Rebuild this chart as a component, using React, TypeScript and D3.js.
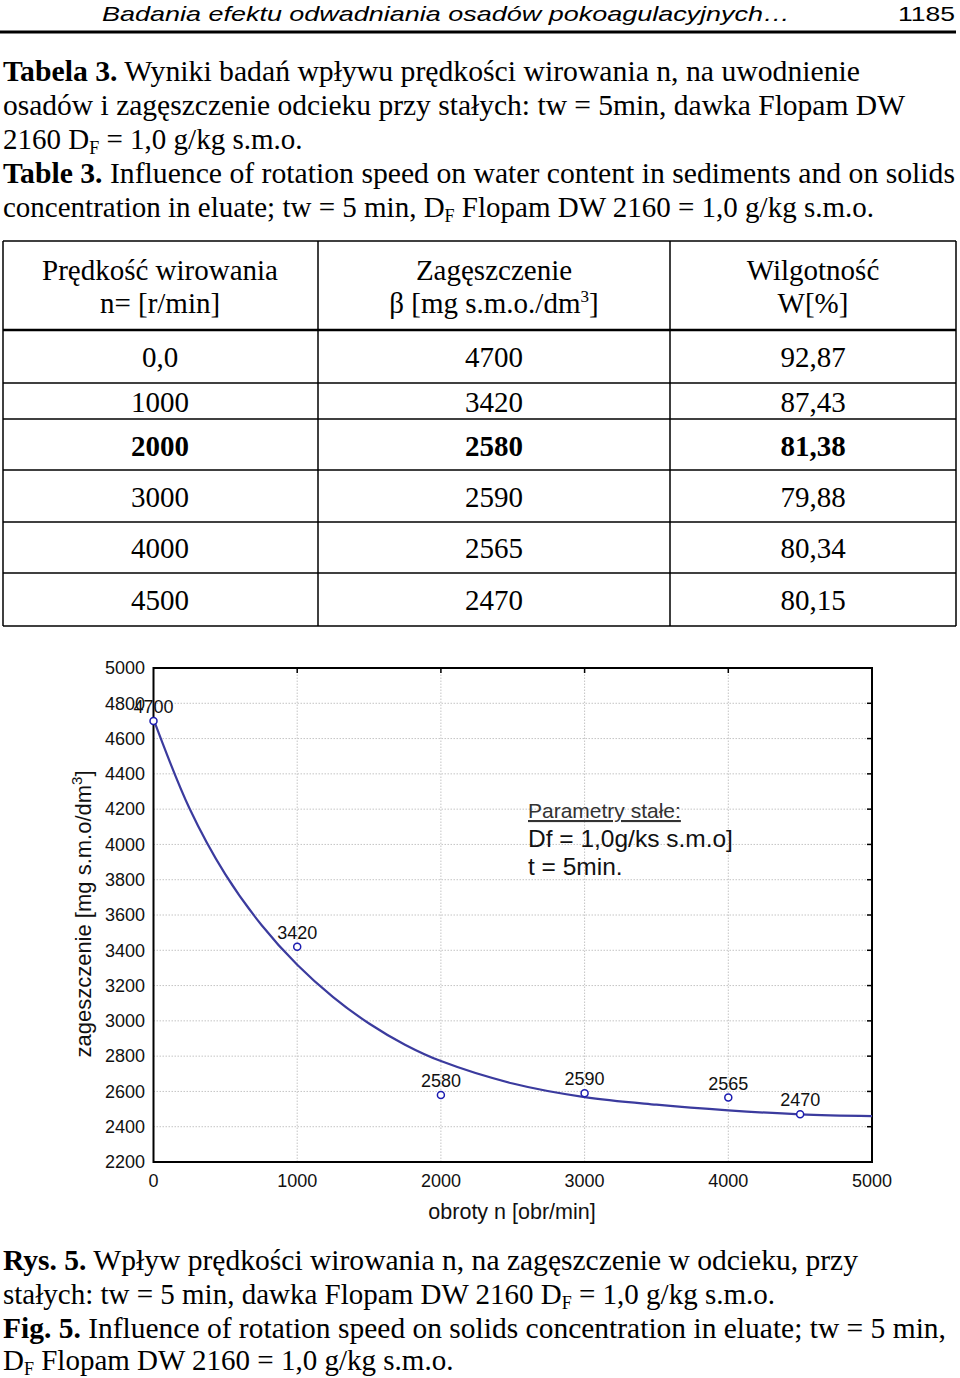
import React from "react";
import * as d3 from "d3";

// ---------- data ----------
const speeds = [0, 1000, 2000, 3000, 4000, 4500];
const speedLabels = ["0,0", "1000", "2000", "3000", "4000", "4500"];
const concentration = [4700, 3420, 2580, 2590, 2565, 2470];
const concentrationLabels = ["4700", "3420", "2580", "2590", "2565", "2470"];
const moisture = ["92,87", "87,43", "81,38", "79,88", "80,34", "80,15"];
const boldRow = 2;

// fitted curve
const fitN = [0, 250, 500, 750, 1000, 1250, 1500, 1750, 2000, 2500, 3000, 3500, 4000, 4500, 5000];
const fitValues = [4710, 4205, 3830, 3545, 3318, 3135, 2985, 2865, 2772, 2645, 2568, 2525, 2493, 2470, 2460];

const xTicks = [0, 1000, 2000, 3000, 4000, 5000];
const yTicks = [2200, 2400, 2600, 2800, 3000, 3200, 3400, 3600, 3800, 4000, 4200, 4400, 4600, 4800, 5000];

const SERIF = "'Liberation Serif', 'Times New Roman', serif";
const SANS = "'Liberation Sans', Arial, sans-serif";

export default function App() {
  const x = d3.scaleLinear().domain([0, 5000]).range([153.5, 872]);
  const y = d3.scaleLinear().domain([2200, 5000]).range([1162, 668]);
  const line = d3
    .line<number>()
    .x((_, i) => x(fitN[i]))
    .y((d) => y(d))
    .curve(d3.curveCatmullRom.alpha(0.5));

  const colX = [3, 318, 670, 956];
  const colC = [160, 494, 813];
  const rowLines = [241, 330, 383, 419, 470, 522, 573, 626];
  const rowBase = [367, 412, 456, 507, 558, 610];

  // text with a subscript "F": before + D_F + after
  const withSub = (before: string, after: string) => (
    <>
      {before}D
      <tspan fontSize="18" dy="5">F</tspan>
      <tspan dy="-5">{after}</tspan>
    </>
  );

  return (
    <svg
      width={960}
      height={1378}
      style={{ position: "absolute", left: 0, top: 0, display: "block", background: "#fff" }}
    >
      <rect x={0} y={0} width={960} height={1378} fill="#fff" />
      {/* running header */}
      <text x={102} y={21} fontFamily={SANS} fontStyle="italic" fontSize={21} textLength={688} lengthAdjust="spacingAndGlyphs">
        Badania efektu odwadniania osadów pokoagulacyjnych…
      </text>
      <text x={898} y={21} fontFamily={SANS} fontSize={21} textLength={57} lengthAdjust="spacingAndGlyphs">
        1185
      </text>
      <line x1={0} x2={956} y1={32} y2={32} stroke="#000" strokeWidth={3} />

      {/* table title */}
      <g fontFamily={SERIF} fontSize={29} fill="#000">
        <text x={3} y={81} textLength={857} lengthAdjust="spacingAndGlyphs">
          <tspan fontWeight="bold">Tabela 3.</tspan> Wyniki badań wpływu prędkości wirowania n, na uwodnienie
        </text>
        <text x={3} y={115} textLength={902} lengthAdjust="spacingAndGlyphs">
          osadów i zagęszczenie odcieku przy stałych: tw = 5min, dawka Flopam DW
        </text>
        <text x={3} y={149}>{withSub("2160 ", " = 1,0 g/kg s.m.o.")}</text>
        <text x={3} y={183} textLength={952} lengthAdjust="spacingAndGlyphs">
          <tspan fontWeight="bold">Table 3.</tspan> Influence of rotation speed on water content in sediments and on solids
        </text>
        <text x={3} y={217}>{withSub("concentration in eluate; tw = 5 min, ", " Flopam DW 2160 = 1,0 g/kg s.m.o.")}</text>
      </g>

      {/* table */}
      <g stroke="#000" strokeWidth={1.5}>
        {rowLines.map((ry, i) => (
          <line key={"r" + i} x1={colX[0]} x2={colX[3]} y1={ry} y2={ry} strokeWidth={i === 1 ? 2.5 : 1.5} />
        ))}
        {colX.map((cx, i) => (
          <line key={"c" + i} x1={cx} x2={cx} y1={rowLines[0]} y2={rowLines[rowLines.length - 1]} />
        ))}
      </g>
      <g fontFamily={SERIF} fontSize={29} textAnchor="middle" fill="#000">
        <text x={colC[0]} y={280}>Prędkość wirowania</text>
        <text x={colC[0]} y={313}>n= [r/min]</text>
        <text x={colC[1]} y={280}>Zagęszczenie</text>
        <text x={colC[1]} y={313}>
          β [mg s.m.o./dm<tspan fontSize="17" dy="-11">3</tspan><tspan dy="11">]</tspan>
        </text>
        <text x={colC[2]} y={280}>Wilgotność</text>
        <text x={colC[2]} y={313}>W[%]</text>
        {speeds.map((_, i) => (
          <g key={"row" + i} fontWeight={i === boldRow ? "bold" : "normal"}>
            <text x={colC[0]} y={rowBase[i]}>{speedLabels[i]}</text>
            <text x={colC[1]} y={rowBase[i]}>{concentrationLabels[i]}</text>
            <text x={colC[2]} y={rowBase[i]}>{moisture[i]}</text>
          </g>
        ))}
      </g>

      {/* chart grid */}
      <g stroke="#c4c4c4" strokeWidth={1} strokeDasharray="1.5,1.5">
        {yTicks.slice(1, -1).map((t) => (
          <line key={"gy" + t} x1={x(0)} x2={x(5000)} y1={y(t)} y2={y(t)} />
        ))}
        {xTicks.slice(1, -1).map((t) => (
          <line key={"gx" + t} x1={x(t)} x2={x(t)} y1={y(2200)} y2={y(5000)} />
        ))}
      </g>
      {/* inward ticks top & right */}
      <g stroke="#000" strokeWidth={1.5}>
        {xTicks.slice(1, -1).map((t) => (
          <line key={"tx" + t} x1={x(t)} x2={x(t)} y1={y(5000)} y2={y(5000) + 5} />
        ))}
        {yTicks.slice(1, -1).map((t) => (
          <line key={"ty" + t} x1={x(5000) - 5} x2={x(5000)} y1={y(t)} y2={y(t)} />
        ))}
      </g>
      <rect x={x(0)} y={y(5000)} width={x(5000) - x(0)} height={y(2200) - y(5000)} fill="none" stroke="#000" strokeWidth={2} />

      {/* text box */}
      <g fontFamily={SANS} fill="#111">
        <text x={528} y={818} fontSize={21} textDecoration="underline" fill="#333">Parametry stałe:</text>
        <text x={528} y={847} fontSize={24.5}>Df = 1,0g/ks s.m.o]</text>
        <text x={528} y={875} fontSize={24.5}>t = 5min.</text>
      </g>

      {/* fitted curve */}
      <path d={line(fitValues) || ""} fill="none" stroke="#3b3b9e" strokeWidth={2.2} />

      {/* points */}
      {speeds.map((s, i) => (
        <circle key={"p" + i} cx={x(s)} cy={y(concentration[i])} r={3.5} fill="#fff" stroke="#1c1cb0" strokeWidth={1.5} />
      ))}

      {/* tick labels */}
      <g fontFamily={SANS} fontSize={18} fill="#111">
        {yTicks.map((t) => (
          <text key={"ly" + t} x={145} y={y(t)} dy="0.35em" textAnchor="end">{t}</text>
        ))}
        {xTicks.map((t) => (
          <text key={"lx" + t} x={x(t)} y={1187} textAnchor="middle">{t}</text>
        ))}
        {speeds.map((s, i) => (
          <text key={"dl" + i} x={x(s)} y={y(concentration[i]) - 8} textAnchor="middle">{concentrationLabels[i]}</text>
        ))}
      </g>

      {/* axis titles */}
      <text x={512} y={1219} fontFamily={SANS} fontSize={21.5} textAnchor="middle" fill="#111">obroty n [obr/min]</text>
      <text transform="translate(91,914) rotate(-90)" fontFamily={SANS} fontSize={22} textAnchor="middle" fill="#111">
        zageszczenie [mg s.m.o/dm<tspan fontSize="15" dy="-9">3</tspan><tspan dy="9">]</tspan>
      </text>

      {/* figure caption */}
      <g fontFamily={SERIF} fontSize={29} fill="#000">
        <text x={3} y={1270} textLength={855} lengthAdjust="spacingAndGlyphs">
          <tspan fontWeight="bold">Rys. 5.</tspan> Wpływ prędkości wirowania n, na zagęszczenie w odcieku, przy
        </text>
        <text x={3} y={1304}>{withSub("stałych: tw = 5 min, dawka Flopam DW 2160 ", " = 1,0 g/kg s.m.o.")}</text>
        <text x={3} y={1338} textLength={943} lengthAdjust="spacingAndGlyphs">
          <tspan fontWeight="bold">Fig. 5.</tspan> Influence of rotation speed on solids concentration in eluate; tw = 5 min,
        </text>
        <text x={3} y={1370}>{withSub("", " Flopam DW 2160 = 1,0 g/kg s.m.o.")}</text>
      </g>
    </svg>
  );
}
